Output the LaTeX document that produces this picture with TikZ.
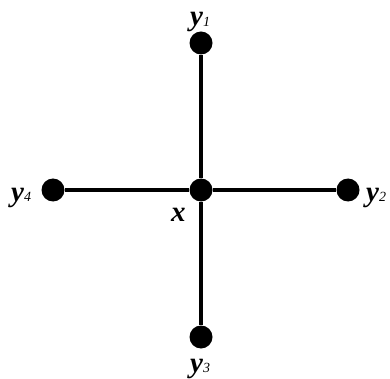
\documentclass[tikz,border=0pt]{standalone}
\usepackage{fontspec}
\setmainfont{Liberation Serif}
\newcommand{\vlab}[2]{{\fontsize{29}{29}\selectfont\bfseries\itshape #1}{\fontsize{14}{14}\selectfont\itshape\raisebox{-0.5pt}{#2}}}
\begin{document}
\begin{tikzpicture}[x=1pt,y=-1pt,
  dot/.style={circle,fill=black,inner sep=0pt,minimum size=23pt},
  edge/.style={line width=4.5pt},
  lab/.style={inner sep=0pt}]
\useasboundingbox (0,0) rectangle (390,379);
\node[dot] (x) at (201,190) {};
\node[dot] (y1) at (201,43) {};
\node[dot] (y2) at (348,190) {};
\node[dot] (y3) at (201,337) {};
\node[dot] (y4) at (53,190) {};
\draw[edge] (x) -- (y1);
\draw[edge] (x) -- (y2);
\draw[edge] (x) -- (y3);
\draw[edge] (x) -- (y4);
\node[lab,anchor=base west] (l1) at (190,26) {\vlab{y}{1}};
\node[lab,anchor=base west] (l2) at (366,201) {\vlab{y}{2}};
\node[lab,anchor=base west] (l3) at (190,372) {\vlab{y}{3}};
\node[lab,anchor=base west] (l4) at (11,201) {\vlab{y}{4}};
\node[lab,anchor=base west] (lx) at (171,221) {{\fontsize{29}{29}\selectfont\bfseries\itshape x}};
\end{tikzpicture}
\end{document}
